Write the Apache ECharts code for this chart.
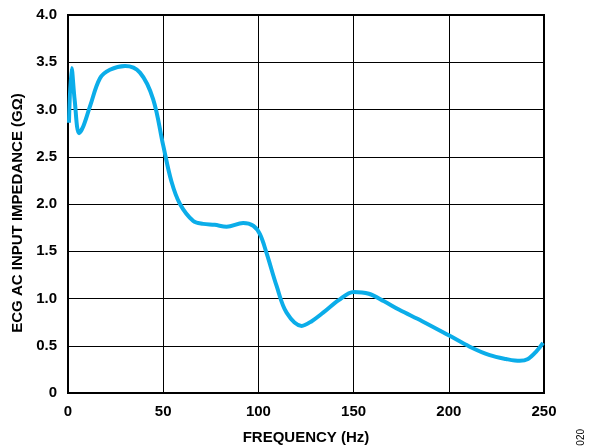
<!DOCTYPE html>
<html><head><meta charset="utf-8">
<script src="https://cdn.jsdelivr.net/npm/echarts@6/dist/echarts.min.js"></script>
<style>html,body{margin:0;padding:0;background:#fff}#c{width:603px;height:446px}</style>
</head><body><div id="c"></div>
<script>
var freqHz = [0.5,1.9,3.5,5.8,8,11.5,16.8,22,30,37.8,44.7,50,54.3,58.8,65.8,71,77,83.3,92,97.3,100.8,104.3,109.6,114.8,122.7,128,134,142,150,158,166,174,186,200,211,221.5,230,237.3,241.6,246,249.5];
var impedanceGOhm = [2.86,3.44,3.10,2.75,2.82,3.03,3.33,3.42,3.46,3.39,3.11,2.62,2.24,2.00,1.82,1.79,1.78,1.76,1.80,1.77,1.68,1.48,1.13,0.85,0.71,0.76,0.85,0.98,1.07,1.05,0.97,0.88,0.76,0.61,0.49,0.40,0.36,0.34,0.36,0.44,0.53];
var xTitle = 'FREQUENCY (Hz)';
var yTitle = 'ECG AC INPUT IMPEDANCE (GΩ)';
var figId = '020';

var pts = freqHz.map(function(f,i){return [f, impedanceGOhm[i]];});
var font = '"Liberation Sans", Arial, sans-serif';
var chart = echarts.init(document.getElementById('c'));
chart.setOption({
  animation:false,
  grid:{left:68,right:59,top:15,bottom:53,show:true,borderColor:'#000',borderWidth:2,
    containLabel:false,outerBoundsMode:'none'},
  xAxis:{type:'value',min:0,max:250,interval:50,
    name:xTitle,nameLocation:'middle',nameGap:37,
    nameTextStyle:{fontFamily:font,fontWeight:'bold',fontSize:15,color:'#000'},
    axisLine:{show:true,lineStyle:{color:'#000',width:2}},axisTick:{show:false},
    axisLabel:{fontFamily:font,fontWeight:'bold',fontSize:15,color:'#000',margin:11},
    splitLine:{show:true,lineStyle:{color:'#000',width:1}}},
  yAxis:{type:'value',min:0,max:4,interval:0.5,
    name:yTitle,nameLocation:'middle',nameGap:36,
    nameTextStyle:{fontFamily:font,fontWeight:'bold',fontSize:15,color:'#000',padding:[0,18,0,0]},
    axisLine:{show:true,lineStyle:{color:'#000',width:2}},axisTick:{show:false},
    axisLabel:{fontFamily:font,fontWeight:'bold',fontSize:15,color:'#000',margin:11,
      formatter:function(v){return v===0?'0':v.toFixed(1);}},
    splitLine:{show:true,lineStyle:{color:'#000',width:1}}},
  graphic:[{type:'text',left:576,top:429,rotation:Math.PI/2,
    style:{text:figId,font:'10px '+font,fill:'#000'}}],
  series:[{type:'line',data:pts,smooth:0.35,showSymbol:false,
    lineStyle:{color:'#0BADE9',width:4},clip:false}]
});
</script></body></html>
